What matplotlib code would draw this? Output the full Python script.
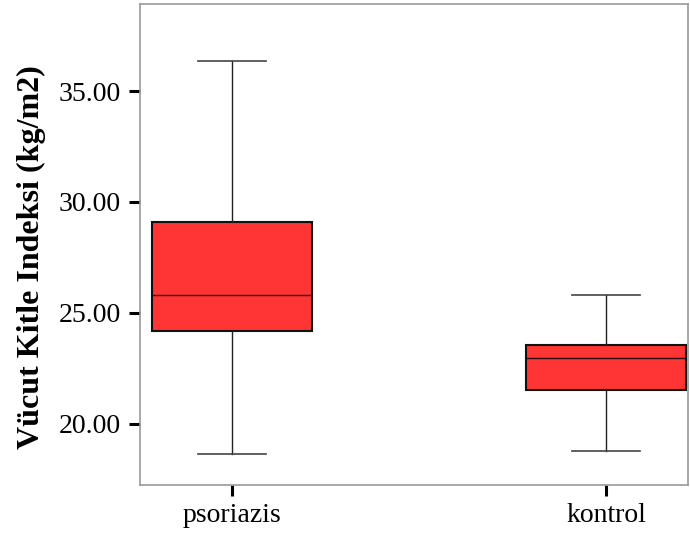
"""
Box plot of body mass index for psoriasis patients and controls
"""

import matplotlib
matplotlib.use('Agg')
import matplotlib.pyplot as plt

groups = ['psoriazis', 'kontrol']
whisker_low = [18.66, 18.80]
q1 = [24.19, 21.53]
median = [25.81, 22.97]
q3 = [29.11, 23.57]
whisker_high = [36.35, 25.82]

yticks = [20, 25, 30, 35]

plt.rcParams['font.family'] = ['Liberation Serif', 'DejaVu Serif']


def make_stats():
    stats = []
    for i, name in enumerate(groups):
        stats.append({'label': name,
                      'whislo': whisker_low[i], 'q1': q1[i], 'med': median[i],
                      'q3': q3[i], 'whishi': whisker_high[i], 'fliers': []})
    return stats


def plot(stats):
    f = plt.figure(figsize=(6.9, 5.39), dpi=100)
    ax = f.add_axes([140/690, 1 - 485/539, 548/690, 481/539])
    ax.bxp(stats, positions=[0, 1], widths=0.426, capwidths=0.182,
           patch_artist=True, showfliers=False,
           boxprops=dict(facecolor='#ff3434', edgecolor='#111111', linewidth=1.5),
           medianprops=dict(color='#2a0a0a', linewidth=1.0),
           whiskerprops=dict(color='#222222', linewidth=1.0),
           capprops=dict(color='#444444', linewidth=1.2))

    ax.set_xlim(-0.246, 1.219)
    ax.set_ylim(17.25, 38.92)
    ax.set_yticks(yticks)
    ax.set_yticklabels(['%.2f' % v for v in yticks])
    ax.set_xticks([0, 1])
    ax.set_xticklabels(groups)
    ax.tick_params(axis='both', length=8, width=2.2, color='black',
                   labelsize=20, pad=6)
    ax.tick_params(axis='x', pad=5)
    for s in ax.spines.values():
        s.set_color('#999999')
        s.set_linewidth(1.2)

    ax.set_ylabel('Vücut Kitle Indeksi (kg/m2)', fontsize=23,
                  fontweight='bold')
    ax.yaxis.set_label_coords(-0.172, 0.474)
    f.savefig('out.png', dpi=100)


def main():
    plot(make_stats())


if __name__ == '__main__':
    main()
